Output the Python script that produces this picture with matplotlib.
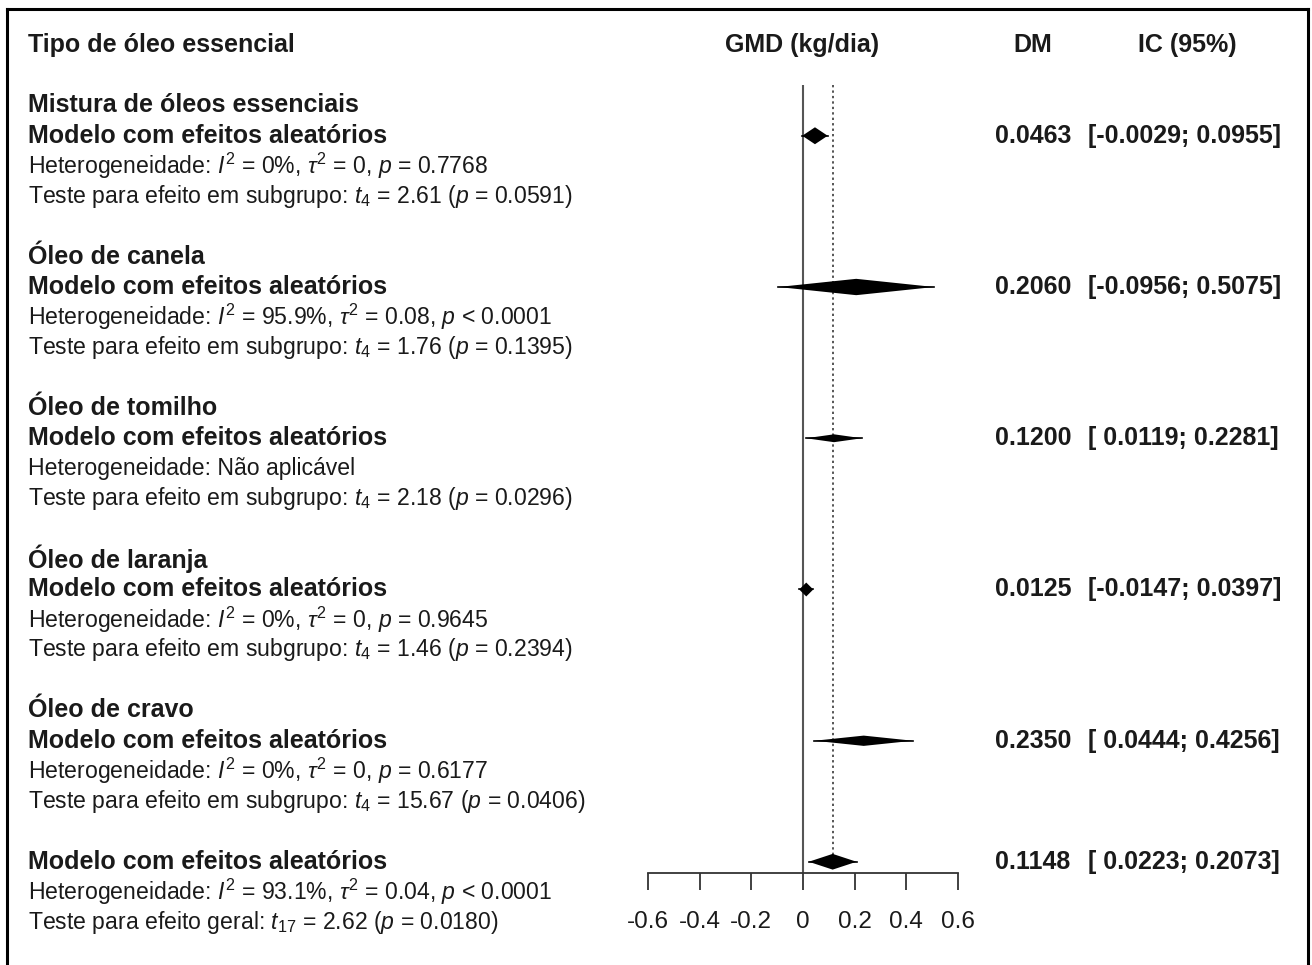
import numpy as np
import matplotlib
matplotlib.use("Agg")
import matplotlib.pyplot as plt
import matplotlib.transforms as mtransforms
from matplotlib.lines import Line2D

plt.rcParams['font.family'] = ['Liberation Sans', 'DejaVu Sans']
plt.rcParams['mathtext.fontset'] = 'custom'
plt.rcParams['mathtext.rm'] = 'Liberation Sans'
plt.rcParams['mathtext.it'] = 'Liberation Sans:italic'
plt.rcParams['mathtext.bf'] = 'Liberation Sans:bold'

# --- data ---
groups = ['Mistura de óleos essenciais', 'Óleo de canela', 'Óleo de tomilho',
          'Óleo de laranja', 'Óleo de cravo']
estimates = [0.0463, 0.2060, 0.1200, 0.0125, 0.2350]
lower_ci = [-0.0029, -0.0956, 0.0119, -0.0147, 0.0444]
upper_ci = [0.0955, 0.5075, 0.2281, 0.0397, 0.4256]
heterogeneity = [
    r'Heterogeneidade: $I^2$ = 0%, $\tau^2$ = 0, $p$ = 0.7768',
    r'Heterogeneidade: $I^2$ = 95.9%, $\tau^2$ = 0.08, $p$ < 0.0001',
    'Heterogeneidade: Não aplicável',
    r'Heterogeneidade: $I^2$ = 0%, $\tau^2$ = 0, $p$ = 0.9645',
    r'Heterogeneidade: $I^2$ = 0%, $\tau^2$ = 0, $p$ = 0.6177',
]
subgroup_tests = [
    r'Teste para efeito em subgrupo: $t_4$ = 2.61 ($p$ = 0.0591)',
    r'Teste para efeito em subgrupo: $t_4$ = 1.76 ($p$ = 0.1395)',
    r'Teste para efeito em subgrupo: $t_4$ = 2.18 ($p$ = 0.0296)',
    r'Teste para efeito em subgrupo: $t_4$ = 1.46 ($p$ = 0.2394)',
    r'Teste para efeito em subgrupo: $t_4$ = 15.67 ($p$ = 0.0406)',
]
overall_est = 0.1148
overall_lo = 0.0223
overall_hi = 0.2073
overall_het = r'Heterogeneidade: $I^2$ = 93.1%, $\tau^2$ = 0.04, $p$ < 0.0001'
overall_test = r'Teste para efeito geral: $t_{17}$ = 2.62 ($p$ = 0.0180)'
xticks = [-0.6, -0.4, -0.2, 0, 0.2, 0.4, 0.6]
xtick_labels = ['-0.6', '-0.4', '-0.2', '0', '0.2', '0.4', '0.6']

# diamond half heights (line units), rough look of the original
half_heights = [0.28, 0.27, 0.13, 0.23, 0.17]
overall_half = 0.26

W, H = 1312, 965
L = 30.25      # pixel height of one text line
Y0 = 45        # pixel y of header line
col = '#1a1a1a'
fs_bold = 18
fs_reg = 16.6

fig = plt.figure(figsize=(W / 100, H / 100), dpi=100)

# forest panel: x from -0.6 to 0.6 between px 648..958, bottom spine at px 873
ax_top, ax_bot = 85, 873
ax = fig.add_axes([648 / W, 1 - ax_bot / H, 310 / W, (ax_bot - ax_top) / H])
ax.set_xlim(-0.6, 0.6)
ax.set_ylim((ax_bot - Y0) / L, (ax_top - Y0) / L)
for s in ['left', 'right', 'top']:
    ax.spines[s].set_visible(False)
ax.spines['bottom'].set_color('#333333')
ax.spines['bottom'].set_linewidth(1.3)
ax.set_yticks([])
ax.set_xticks(xticks)
ax.set_xticklabels(xtick_labels, fontsize=17.5, color=col)
ax.tick_params(axis='x', direction='out', length=12, width=1.3, color='#333333', pad=15)

# reference lines
ax.axvline(0, color='#555555', lw=1.5, zorder=1)
ax.plot([overall_est, overall_est], [(ax_top - Y0) / L, 27], color='#555555',
        lw=1.4, ls=(0, (1.2, 1.6)), zorder=1, clip_on=False)

tr = mtransforms.blended_transform_factory(fig.transFigure, ax.transData)
xl = 28 / W

def diamond(y, est, lo, hi, h):
    ax.fill([lo, est, hi, est], [y, y - h, y, y + h], color='black', lw=0, zorder=3)
    ax.plot([lo, hi], [y, y], color='black', lw=1.2, zorder=3)

def bold(x, y, s, ha='left'):
    ax.text(x / W, y, s, transform=tr, fontsize=fs_bold, fontweight='bold',
            va='center', ha=ha, color=col)

def reg(y, s):
    ax.text(xl, y, s, transform=tr, fontsize=fs_reg, va='center', ha='left', color=col)

# header
bold(28, 0, 'Tipo de óleo essencial')
bold(802, 0, 'GMD (kg/dia)', ha='center')
bold(1033, 0, 'DM', ha='center')
bold(1187, 0, 'IC (95%)', ha='center')

for k, g in enumerate(groups):
    base = 2 + 5 * k
    bold(28, base, g)
    bold(28, base + 1, 'Modelo com efeitos aleatórios')
    reg(base + 2, heterogeneity[k])
    reg(base + 3, subgroup_tests[k])
    diamond(base + 1, estimates[k], lower_ci[k], upper_ci[k], half_heights[k])
    bold(995, base + 1, f'{estimates[k]:.4f}')
    bold(1088, base + 1, f'[{lower_ci[k]:7.4f}; {upper_ci[k]:.4f}]')

# overall
bold(28, 27, 'Modelo com efeitos aleatórios')
reg(28, overall_het)
reg(29, overall_test)
diamond(27, overall_est, overall_lo, overall_hi, overall_half)
bold(995, 27, f'{overall_est:.4f}')
bold(1088, 27, f'[{overall_lo:7.4f}; {overall_hi:.4f}]')

# outer frame (bottom edge is cut off in the original)
fx0, fx1, fy1 = 7 / W, 1308 / W, 1 - 9 / H
for xs, ys in [([fx0, fx0], [-0.1, fy1]), ([fx0, fx1], [fy1, fy1]), ([fx1, fx1], [fy1, -0.1])]:
    fig.add_artist(Line2D(xs, ys, color='black', lw=2.2, transform=fig.transFigure))

fig.savefig('out.png', dpi=100)
